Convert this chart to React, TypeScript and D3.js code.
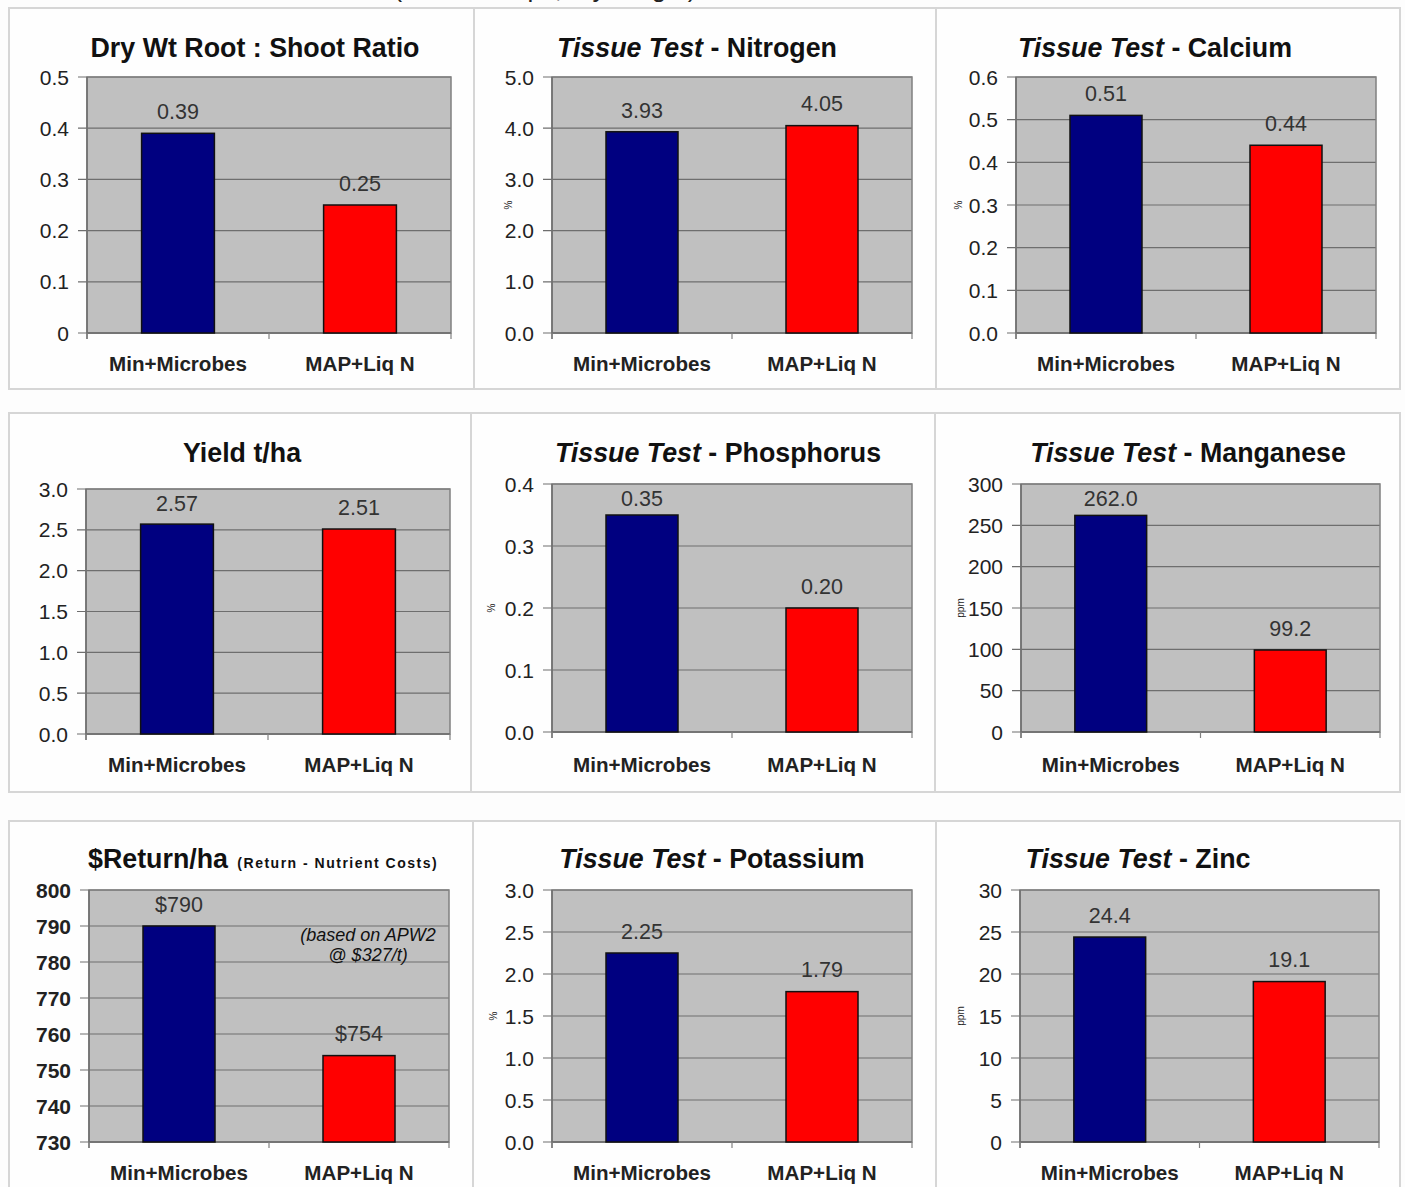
import React from 'react';
import * as d3 from 'd3';

// ---- data ----
const categories = ['Min+Microbes', 'MAP+Liq N'];

const rootShootRatio = [0.39, 0.25];
const nitrogenPct = [3.93, 4.05];
const calciumPct = [0.51, 0.44];
const yieldTha = [2.57, 2.51];
const phosphorusPct = [0.35, 0.2];
const manganesePpm = [262.0, 99.2];
const returnPerHa = [790, 754];
const potassiumPct = [2.25, 1.79];
const zincPpm = [24.4, 19.1];

const ratioTicks = [0, 0.1, 0.2, 0.3, 0.4, 0.5];
const nitrogenTicks = [0, 1, 2, 3, 4, 5];
const calciumTicks = [0, 0.1, 0.2, 0.3, 0.4, 0.5, 0.6];
const yieldTicks = [0, 0.5, 1, 1.5, 2, 2.5, 3];
const phosphorusTicks = [0, 0.1, 0.2, 0.3, 0.4];
const manganeseTicks = [0, 50, 100, 150, 200, 250, 300];
const returnTicks = [730, 740, 750, 760, 770, 780, 790, 800];
const potassiumTicks = [0, 0.5, 1, 1.5, 2, 2.5, 3];
const zincTicks = [0, 5, 10, 15, 20, 25, 30];

const barColors = ['#000080', '#ff0000'];

type Panel = {
  titleBold?: string;
  titleItalic?: string;
  titleRest?: string;
  titleSmall?: string;
  values: number[];
  ticks: number[];
  tickFmt: (v: number) => string;
  valueFmt: (v: number) => string;
  unit?: string;
  boldTicks?: boolean;
};

const f1 = d3.format('.1f');
const f2 = d3.format('.2f');
const plain = (v: number) => String(v);

const panels: Panel[] = [
  { titleBold: 'Dry Wt Root : Shoot Ratio', values: rootShootRatio, ticks: ratioTicks, tickFmt: (v) => (v === 0 ? '0' : f1(v)), valueFmt: f2 },
  { titleItalic: 'Tissue Test', titleRest: ' -  Nitrogen', values: nitrogenPct, ticks: nitrogenTicks, tickFmt: f1, valueFmt: f2, unit: '%' },
  { titleItalic: 'Tissue Test', titleRest: ' - Calcium', values: calciumPct, ticks: calciumTicks, tickFmt: f1, valueFmt: f2, unit: '%' },
  { titleBold: 'Yield t/ha', values: yieldTha, ticks: yieldTicks, tickFmt: f1, valueFmt: f2 },
  { titleItalic: 'Tissue Test', titleRest: ' - Phosphorus', values: phosphorusPct, ticks: phosphorusTicks, tickFmt: f1, valueFmt: f2, unit: '%' },
  { titleItalic: 'Tissue Test', titleRest: ' - Manganese', values: manganesePpm, ticks: manganeseTicks, tickFmt: plain, valueFmt: f1, unit: 'ppm' },
  { titleBold: '$Return/ha', titleSmall: ' (Return - Nutrient Costs)', values: returnPerHa, ticks: returnTicks, tickFmt: plain, valueFmt: (v) => '$' + v, boldTicks: true },
  { titleItalic: 'Tissue Test', titleRest: ' -  Potassium', values: potassiumPct, ticks: potassiumTicks, tickFmt: f1, valueFmt: f2, unit: '%' },
  { titleItalic: 'Tissue Test', titleRest: ' - Zinc', values: zincPpm, ticks: zincTicks, tickFmt: plain, valueFmt: f1, unit: 'ppm' },
];

// ---- layout ----
const W = 1405;
const H = 1187;
const FONT = "'Liberation Sans', Arial, Helvetica, sans-serif";

const rows = [
  { top: 8, bottom: 389, dividers: [474, 936], titleY: 47, catY: 364 },
  { top: 413, bottom: 792, dividers: [471, 935], titleY: 452, catY: 765 },
  { top: 821, bottom: 1200, dividers: [473, 936], titleY: 858, catY: 1173 },
];

// plot rectangles [left, right, top, bottom], title anchor x, unit label x
const frames = [
  { x0: 87, x1: 451, y0: 77, y1: 333, tx: 255, ux: 0 },
  { x0: 552, x1: 912, y0: 77, y1: 333, tx: 697, ux: 508 },
  { x0: 1016, x1: 1376, y0: 77, y1: 333, tx: 1155, ux: 958 },
  { x0: 86, x1: 450, y0: 489, y1: 734, tx: 242, ux: 0 },
  { x0: 552, x1: 912, y0: 484, y1: 732, tx: 718, ux: 491 },
  { x0: 1021, x1: 1380, y0: 484, y1: 732, tx: 1188, ux: 960 },
  { x0: 89, x1: 449, y0: 890, y1: 1142, tx: 88, ux: 0 },
  { x0: 552, x1: 912, y0: 890, y1: 1142, tx: 712, ux: 493 },
  { x0: 1020, x1: 1379, y0: 890, y1: 1142, tx: 1138, ux: 960 },
];

function ChartPanel({ p, fr, row }: { p: Panel; fr: typeof frames[number]; row: typeof rows[number] }) {
  const x = d3.scaleBand<string>().domain(categories).range([fr.x0, fr.x1]).paddingInner(0.6).paddingOuter(0.3);
  const dom = d3.extent(p.ticks) as [number, number];
  const y = d3.scaleLinear().domain(dom).range([fr.y1, fr.y0]);
  const mid = (fr.x0 + fr.x1) / 2;
  const titleAnchor = p.titleSmall ? 'start' : 'middle';
  return (
    <g>
      {/* title */}
      <text x={fr.tx} y={row.titleY} dy="0.36em" textAnchor={titleAnchor} fontFamily={FONT} fontWeight="bold" fontSize={26.8} fill="#111">
        {p.titleItalic && <tspan fontStyle="italic">{p.titleItalic}</tspan>}
        {p.titleRest && <tspan>{p.titleRest}</tspan>}
        {p.titleBold && <tspan>{p.titleBold}</tspan>}
        {p.titleSmall && (
          <tspan fontSize={14} letterSpacing={1.5} dx={4}>
            {p.titleSmall}
          </tspan>
        )}
      </text>
      {/* plot area */}
      <rect x={fr.x0} y={fr.y0} width={fr.x1 - fr.x0} height={fr.y1 - fr.y0} fill="#c0c0c0" />
      {p.ticks.map((t) => (
        <g key={t}>
          <line x1={fr.x0 - 9} x2={fr.x1} y1={y(t)} y2={y(t)} stroke="#6e6e6e" strokeWidth={1.2} />
          <text x={fr.x0 - 18} y={y(t)} dy="0.36em" textAnchor="end" fontFamily={FONT} fontSize={21} fontWeight={p.boldTicks ? 'bold' : 'normal'} fill="#222">
            {p.tickFmt(t)}
          </text>
        </g>
      ))}
      <rect x={fr.x0} y={fr.y0} width={fr.x1 - fr.x0} height={fr.y1 - fr.y0} fill="none" stroke="#808080" strokeWidth={1.5} />
      <line x1={fr.x0} x2={fr.x0} y1={fr.y0} y2={fr.y1 + 6} stroke="#6e6e6e" strokeWidth={1.5} />
      <line x1={fr.x0} x2={fr.x1} y1={fr.y1} y2={fr.y1} stroke="#6e6e6e" strokeWidth={1.5} />
      {[fr.x0, mid, fr.x1].map((tx, i) => (
        <line key={i} x1={tx} x2={tx} y1={fr.y1} y2={fr.y1 + 6} stroke="#808080" strokeWidth={1.2} />
      ))}
      {/* unit label */}
      {p.unit && (
        <text transform={`translate(${fr.ux},${(fr.y0 + fr.y1) / 2}) rotate(-90)`} dy="0.36em" textAnchor="middle" fontFamily={FONT} fontSize={10} fill="#222">
          {p.unit}
        </text>
      )}
      {/* bars */}
      {categories.map((c, i) => {
        const v = p.values[i];
        const top = y(v);
        const labelY = Math.max(top - 22, fr.y0 + 14);
        const cx = (x(c) as number) + x.bandwidth() / 2;
        return (
          <g key={c}>
            <rect x={x(c)} y={top} width={x.bandwidth()} height={fr.y1 - top} fill={barColors[i]} stroke="#111" strokeWidth={1.5} />
            <text x={cx} y={labelY} dy="0.36em" textAnchor="middle" fontFamily={FONT} fontSize={21.5} fill="#333">
              {p.valueFmt(v)}
            </text>
            <text x={cx} y={row.catY} dy="0.36em" textAnchor="middle" fontFamily={FONT} fontWeight="bold" fontSize={20.6} fill="#222">
              {c}
            </text>
          </g>
        );
      })}
    </g>
  );
}

export default function App() {
  return (
    <svg width={W} height={H} style={{ position: 'absolute', left: 0, top: 0, background: '#fdfdfd' }}>
      <rect width={W} height={H} fill="#fdfdfd" />
      {/* heading above the grid, running past the top edge */}
      <text x={545} y={-3} textAnchor="middle" fontFamily={FONT} fontSize={26} fill="#222">
        (Ave of 4 reps, dry weight)
      </text>
      {rows.map((r, i) => (
        <g key={i}>
          <rect x={9} y={r.top} width={1391} height={r.bottom - r.top} fill="#fefefe" stroke="#d6d6d6" strokeWidth={2} />
          {r.dividers.map((d) => (
            <line key={d} x1={d} x2={d} y1={r.top} y2={r.bottom} stroke="#d6d6d6" strokeWidth={2} />
          ))}
        </g>
      ))}
      {panels.map((p, i) => (
        <ChartPanel key={i} p={p} fr={frames[i]} row={rows[Math.floor(i / 3)]} />
      ))}
      {/* price note */}
      <text x={368} y={935} textAnchor="middle" fontFamily={FONT} fontStyle="italic" fontSize={18} fill="#111">
        <tspan x={368} dy="0.36em">(based on APW2</tspan>
        <tspan x={368} dy="1.1em">@ $327/t)</tspan>
      </text>
    </svg>
  );
}
